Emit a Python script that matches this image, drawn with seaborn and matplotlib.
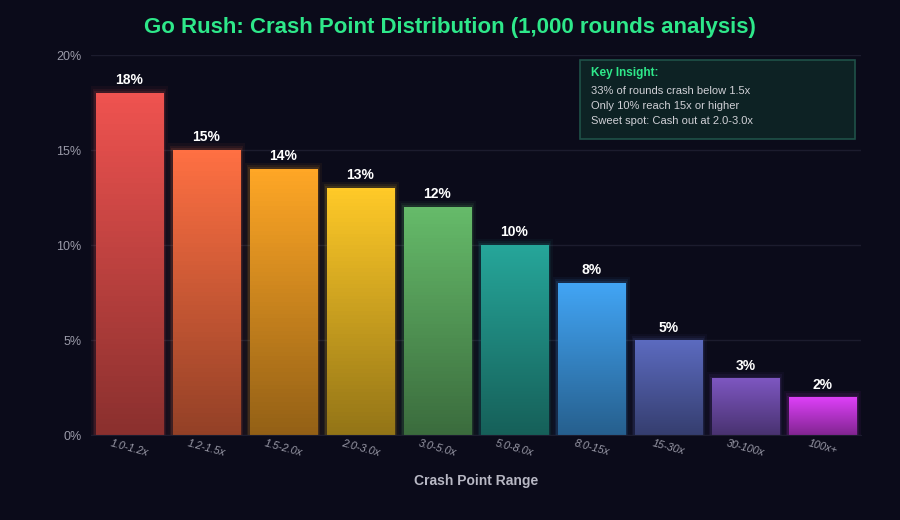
import numpy as np
import pandas as pd
import matplotlib
matplotlib.use("Agg")
import matplotlib.pyplot as plt
from matplotlib.colors import to_rgb
import seaborn as sns

ranges = ["1.0-1.2x", "1.2-1.5x", "1.5-2.0x", "2.0-3.0x", "3.0-5.0x",
          "5.0-8.0x", "8.0-15x", "15-30x", "30-100x", "100x+"]
share = [18, 15, 14, 13, 12, 10, 8, 5, 3, 2]
colors = ["#ef5350", "#ff7043", "#ffa726", "#ffca28", "#66bb6a",
          "#26a69a", "#42a5f5", "#5c6bc0", "#7e57c2", "#e040fb"]
y_ticks = [0, 5, 10, 15, 20]
insight = ["33% of rounds crash below 1.5x",
           "Only 10% reach 15x or higher",
           "Sweet spot: Cash out at 2.0-3.0x"]

bg = "#0b0b1a"
sns.set_style("dark")
plt.rcParams["font.family"] = ["Liberation Sans", "DejaVu Sans"]

df = pd.DataFrame({"range": ranges, "share": share})

fig = plt.figure(figsize=(9, 5.2), dpi=100, facecolor=bg)
ax = fig.add_axes([91 / 900, 0.163, 770 / 900, 0.731])
ax.set_facecolor(bg)

sns.barplot(data=df, x="range", y="share", hue="range", palette=colors,
            legend=False, width=0.88, ax=ax, saturation=1)

# vertical gradient + soft glow on each bar
for patch, c in zip(list(ax.patches), colors):
    x0, y0 = patch.get_x(), patch.get_y()
    w, h = patch.get_width(), patch.get_height()
    patch.set_edgecolor("none")
    for k, (dx, dy) in enumerate([(0.06, 0.35), (0.035, 0.2), (0.015, 0.09)]):
        glow = plt.Rectangle((x0 - dx, y0), w + 2 * dx, h + dy, facecolor=c,
                             edgecolor="none", alpha=0.05 + 0.03 * k, zorder=1)
        ax.add_patch(glow)
    top = np.array(to_rgb(c))
    bot = top * 0.58
    t = np.linspace(0, 1, 64)[:, None]
    grad = (bot * (1 - t) + top * t)[:, None, :]
    im = ax.imshow(grad, extent=[x0, x0 + w, y0, y0 + h], origin="lower",
                   aspect="auto", zorder=patch.get_zorder() + 0.1)
    im.set_clip_path(patch)

for i, v in enumerate(share):
    ax.text(i, v + 0.3, f"{v}%", ha="center", va="bottom", color="white",
            fontsize=10, fontweight="bold", zorder=5)

ax.set_xlim(-0.5, len(ranges) - 0.5)
ax.set_ylim(0, 20)
ax.set_yticks(y_ticks)
ax.set_yticklabels([f"{t}%" for t in y_ticks], color="#9a9aa8", fontsize=9)
ax.set_xticks(range(len(ranges)))
ax.set_xticklabels(ranges, rotation=-15, ha="center", color="#9a9aa8",
                   fontsize=7.8, fontstyle="italic")
ax.tick_params(axis="x", length=0, pad=2)
ax.tick_params(axis="y", length=0, pad=7)
ax.grid(axis="y", color="#1c1c2e", linewidth=1)
ax.grid(axis="x", visible=False)
ax.set_axisbelow(True)
for s in ["top", "right", "left"]:
    ax.spines[s].set_visible(False)
ax.spines["bottom"].set_color("#1c1c2e")
ax.set_ylabel("")
ax.set_xlabel("Crash Point Range", color="#b8b8c4", fontsize=10,
              fontweight="bold", labelpad=12)

fig.text(0.5, 0.948, "Go Rush: Crash Point Distribution (1,000 rounds analysis)",
         ha="center", va="center", color="#2ee88a", fontsize=16, fontweight="bold")

# insight box
box = plt.Rectangle((580 / 900, 1 - 139 / 520), 275 / 900, 79 / 520,
                    transform=fig.transFigure, facecolor="#0d2224",
                    edgecolor="#1f5148", linewidth=1.2, zorder=10)
fig.add_artist(box)
fig.text(591 / 900, 1 - 73 / 520, "Key Insight:", color="#2ee88a",
         fontsize=8.5, fontweight="bold", va="center", zorder=11)
for k, line in enumerate(insight):
    fig.text(591 / 900, 1 - (91 + k * 15) / 520, line, color="#d0d0d6",
             fontsize=8, va="center", zorder=11)

fig.savefig("out.png", dpi=100, facecolor=bg)
